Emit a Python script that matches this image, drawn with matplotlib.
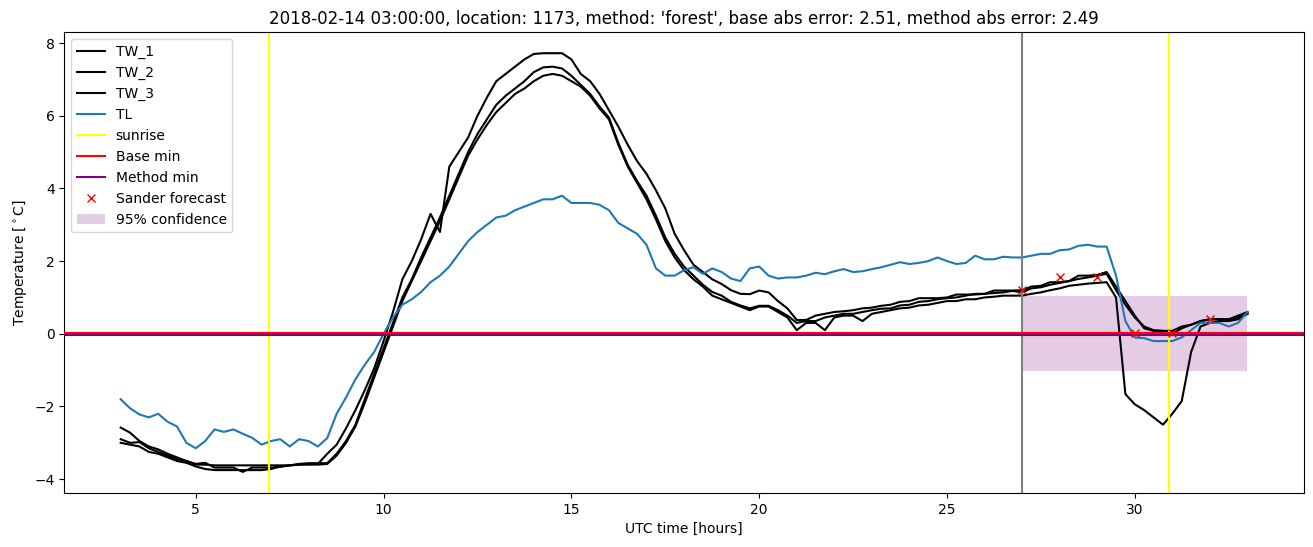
import numpy as np
import matplotlib
matplotlib.use('Agg')
import matplotlib.pyplot as plt

# time axis, 15 min steps from 03:00 to 33:00 (next day 09:00)
hours = np.arange(3, 33.01, 0.25)

tw_1 = [-2.58, -2.72, -2.95, -3.1, -3.18, -3.3, -3.4, -3.5, -3.58, -3.55,
        -3.68, -3.68, -3.68, -3.8, -3.68, -3.68, -3.68, -3.66, -3.62, -3.6,
        -3.58, -3.58, -3.3, -3.05, -2.6, -2.1, -1.55, -0.95, -0.2, 0.6,
        1.5, 2.0, 2.6, 3.3, 2.8, 4.6, 5.0, 5.4, 6.0, 6.5,
        6.95, 7.15, 7.35, 7.55, 7.7, 7.72, 7.72, 7.72, 7.55, 7.15,
        6.95, 6.6, 6.15, 5.7, 5.2, 4.75, 4.4, 3.95, 3.45, 2.75,
        2.3, 1.9, 1.7, 1.5, 1.37, 1.2, 1.1, 1.09, 1.19, 1.14,
        0.9, 0.7, 0.38, 0.38, 0.5, 0.55, 0.6, 0.62, 0.65, 0.7,
        0.72, 0.77, 0.8, 0.88, 0.9, 0.98, 0.98, 0.98, 1.0, 1.08,
        1.08, 1.08, 1.1, 1.19, 1.19, 1.19, 1.2, 1.3, 1.32, 1.42,
        1.42, 1.45, 1.6, 1.6, 1.62, 1.7, 1.3, 0.9, 0.5, 0.15,
        0.08, 0.08, 0.0, 0.15, 0.25, 0.35, 0.4, 0.4, 0.4, 0.5,
        0.6]

tw_2 = [-2.9, -3.0, -2.98, -3.15, -3.25, -3.35, -3.45, -3.5, -3.6, -3.6,
        -3.62, -3.62, -3.62, -3.62, -3.62, -3.62, -3.62, -3.62, -3.62, -3.58,
        -3.56, -3.56, -3.56, -3.3, -2.95, -2.5, -1.8, -1.1, -0.4, 0.3,
        1.0, 1.5, 2.1, 2.65, 3.2, 3.8, 4.4, 5.0, 5.5, 5.9,
        6.3, 6.55, 6.75, 6.95, 7.2, 7.33, 7.35, 7.3, 7.1, 6.85,
        6.6, 6.25, 5.95, 5.25, 4.65, 4.2, 3.8, 3.25, 2.65, 2.2,
        1.85, 1.6, 1.35, 1.15, 1.05, 0.88, 0.78, 0.7, 0.77, 0.77,
        0.65, 0.5, 0.3, 0.35, 0.35, 0.45, 0.5, 0.55, 0.55, 0.6,
        0.65, 0.69, 0.7, 0.78, 0.8, 0.88, 0.9, 0.95, 0.98, 1.0,
        1.05, 1.1, 1.1, 1.12, 1.14, 1.18, 1.14, 1.25, 1.28, 1.35,
        1.4, 1.45, 1.51, 1.55, 1.6, 1.65, 1.2, 0.8, 0.45, 0.2,
        0.1, 0.08, 0.08, 0.2, 0.25, 0.35, 0.4, 0.4, 0.4, 0.45,
        0.55]

tw_3 = [-3.0, -3.05, -3.1, -3.25, -3.3, -3.4, -3.5, -3.55, -3.65, -3.72,
        -3.75, -3.75, -3.75, -3.75, -3.75, -3.75, -3.72, -3.65, -3.62, -3.6,
        -3.6, -3.6, -3.58, -3.35, -3.0, -2.55, -1.9, -1.2, -0.5, 0.2,
        0.9, 1.45, 2.0, 2.55, 3.1, 3.7, 4.3, 4.9, 5.35, 5.75,
        6.1, 6.35, 6.6, 6.75, 6.95, 7.1, 7.15, 7.1, 6.95, 6.8,
        6.55, 6.2, 5.9, 5.2, 4.6, 4.15, 3.7, 3.15, 2.55, 2.1,
        1.75, 1.5, 1.3, 1.05, 0.95, 0.85, 0.75, 0.65, 0.75, 0.75,
        0.6, 0.45, 0.1, 0.3, 0.3, 0.1, 0.45, 0.5, 0.5, 0.35,
        0.55, 0.6, 0.65, 0.7, 0.72, 0.78, 0.8, 0.85, 0.9, 0.9,
        0.95, 0.95, 1.0, 1.02, 1.05, 1.05, 1.05, 1.1, 1.14, 1.2,
        1.25, 1.32, 1.35, 1.38, 1.4, 1.42, 1.0, -1.66, -1.94, -2.1,
        -2.3, -2.5, -2.2, -1.85, -0.5, 0.2, 0.3, 0.35, 0.35, 0.4,
        0.55]

tl = [-1.8, -2.05, -2.22, -2.3, -2.2, -2.42, -2.55, -3.0, -3.15, -2.95,
      -2.63, -2.7, -2.63, -2.75, -2.86, -3.05, -2.95, -2.9, -3.1, -2.9,
      -2.95, -3.1, -2.87, -2.2, -1.75, -1.25, -0.85, -0.5, 0.0, 0.45,
      0.8, 0.95, 1.15, 1.42, 1.6, 1.85, 2.2, 2.55, 2.8, 3.0,
      3.2, 3.25, 3.4, 3.5, 3.6, 3.7, 3.7, 3.8, 3.6, 3.6,
      3.6, 3.55, 3.4, 3.05, 2.9, 2.75, 2.45, 1.8, 1.6, 1.6,
      1.75, 1.83, 1.65, 1.8, 1.7, 1.52, 1.45, 1.8, 1.85, 1.6,
      1.52, 1.55, 1.55, 1.6, 1.68, 1.64, 1.72, 1.78, 1.7, 1.72,
      1.78, 1.83, 1.9, 1.97, 1.92, 1.95, 2.0, 2.1, 2.0, 1.92,
      1.95, 2.15, 2.05, 2.05, 2.12, 2.1, 2.1, 2.15, 2.2, 2.2,
      2.3, 2.32, 2.42, 2.45, 2.4, 2.4, 1.6, 0.35, -0.1, -0.12,
      -0.2, -0.2, -0.2, -0.1, 0.1, 0.3, 0.3, 0.3, 0.2, 0.3,
      0.6]

sunrise_hours = [6.95, 30.9]
forecast_start = 27
base_min = 0.01
method_min = -0.025

sander_hours = [27, 28, 29, 30, 31, 32]
sander_values = [1.2, 1.57, 1.55, 0.01, 0.01, 0.42]

conf_hours = [27, 33]
conf_low = [-1.02, -1.02]
conf_high = [1.05, 1.05]

title = ("2018-02-14 03:00:00, location: 1173, method: 'forest', "
         "base abs error: 2.51, method abs error: 2.49")

fig = plt.figure(figsize=(13.13, 5.47), dpi=100)
ax = fig.add_subplot(111)
fig.subplots_adjust(left=0.049, right=0.993, top=0.941, bottom=0.099)

ax.plot(hours, tw_1, color='black', label='TW_1')
ax.plot(hours, tw_2, color='black', label='TW_2')
ax.plot(hours, tw_3, color='black', label='TW_3')
ax.plot(hours, tl, color='tab:blue', label='TL')

for i, h in enumerate(sunrise_hours):
    ax.axvline(h, color='yellow', label='sunrise' if i == 0 else None)
ax.axvline(forecast_start, color='grey', linewidth=1.5)

ax.axhline(method_min, color='purple', label='Method min', zorder=3)
ax.axhline(base_min, color='red', label='Base min', zorder=3)

ax.plot(sander_hours, sander_values, 'x', color='red', label='Sander forecast', zorder=4)
ax.fill_between(conf_hours, conf_low, conf_high, color='purple', alpha=0.2,
                linewidth=0, label='95% confidence')

# legend order like the original
handles, labels = ax.get_legend_handles_labels()
order = ['TW_1', 'TW_2', 'TW_3', 'TL', 'sunrise', 'Base min', 'Method min',
         'Sander forecast', '95% confidence']
hmap = dict(zip(labels, handles))
ax.legend([hmap[l] for l in order], order, loc='upper left')

ax.set_title(title)
ax.set_xlabel('UTC time [hours]')
ax.set_ylabel(r'Temperature [$^\circ$C]')

plt.savefig('out.png', dpi=100)
plt.close()
